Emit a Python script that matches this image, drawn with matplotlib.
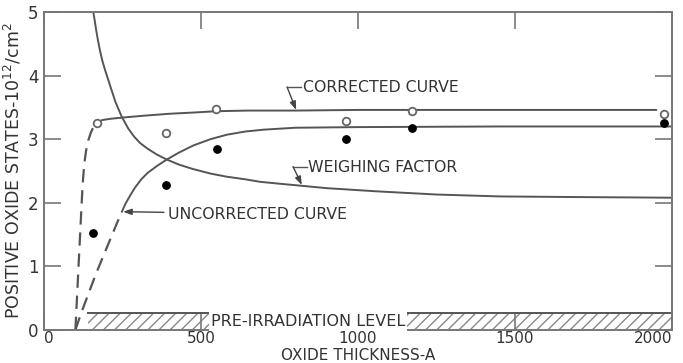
import numpy as np
from matplotlib import pyplot as plt
from matplotlib.patches import Rectangle

# -------------- data (x in Angstrom, y in 1e12/cm2)
open_x = [169, 390, 547, 962, 1171, 1973]
open_y = [3.26, 3.09, 3.47, 3.29, 3.45, 3.39]

fill_x = [157, 388, 550, 962, 1173, 1973]
fill_y = [1.52, 2.28, 2.84, 3.00, 3.18, 3.25]

corr_dash_x = [100, 106, 112, 118, 123, 128, 134, 141, 149, 158, 169]
corr_dash_y = [0.0, 0.60, 1.20, 1.80, 2.28, 2.60, 2.82, 2.98, 3.10, 3.20, 3.26]

corr_x = [169, 185, 210, 250, 320, 400, 480, 550, 650, 800, 1000, 1200, 1500, 1950]
corr_y = [3.26, 3.30, 3.32, 3.34, 3.37, 3.40, 3.42, 3.44, 3.45, 3.45, 3.46, 3.46, 3.46, 3.46]

uncorr_dash_x = [100, 118, 134, 150, 166, 182, 197, 213, 229, 248]
uncorr_dash_y = [0.0, 0.26, 0.47, 0.68, 0.89, 1.08, 1.26, 1.45, 1.64, 1.86]

uncorr_x = [248, 260, 275, 290, 310, 330, 360, 391, 430, 475, 530, 582, 640, 700, 800, 1000, 1452, 2000]
uncorr_y = [1.86, 1.99, 2.12, 2.24, 2.37, 2.47, 2.58, 2.68, 2.79, 2.90, 3.00, 3.07, 3.12, 3.15, 3.18, 3.19, 3.20, 3.20]

weigh_x = [157, 162, 166, 172, 178, 186, 195, 210, 228, 247, 268, 287, 306, 330, 359, 391, 430,
           475, 530, 582, 640, 688, 750, 815, 900, 1060, 1250, 1452, 1700, 2000]
weigh_y = [5.0, 4.85, 4.72, 4.55, 4.40, 4.23, 4.08, 3.85, 3.58, 3.36, 3.17, 3.04, 2.94, 2.85, 2.76,
           2.68, 2.60, 2.53, 2.46, 2.41, 2.37, 2.33, 2.30, 2.27, 2.23, 2.18, 2.13, 2.10, 2.09, 2.08]

pre_level = 0.27
pre_start = 140

xticks = [0, 500, 1000, 1500, 2000]
xtick_ha = ['left', 'center', 'center', 'center', 'right']
yticks = [0, 1, 2, 3, 4, 5]

ink = '#555555'
txt = '#333333'

plt.rcParams['font.family'] = ['DejaVu Sans']

fig, ax = plt.subplots(figsize=(6.83, 3.63), dpi=100, facecolor='white')
fig.subplots_adjust(left=0.0644, right=0.984, bottom=0.0909, top=0.967)

# -------------- curves
line_kw = dict(color=ink, solid_joinstyle='round', solid_capstyle='round')
ax.plot(corr_dash_x, corr_dash_y, lw=1.6, dashes=(6, 3.5), **line_kw)
ax.plot(corr_x, corr_y, lw=1.4, **line_kw)
ax.plot(uncorr_dash_x, uncorr_dash_y, lw=1.6, dashes=(6, 3.5), **line_kw)
ax.plot(uncorr_x, uncorr_y, lw=1.4, **line_kw)
ax.plot(weigh_x, weigh_y, lw=1.4, **line_kw)

# -------------- points
ax.scatter(open_x, open_y, s=30, facecolors='white', edgecolors='#666666', linewidths=1.3, zorder=5)
ax.scatter(fill_x, fill_y, s=28, color='black', zorder=5)

# -------------- pre-irradiation band
ax.add_patch(Rectangle((pre_start, 0), 2000 - pre_start, pre_level, facecolor='none',
                       edgecolor='#888888', hatch='///', lw=0))
ax.plot([pre_start, 2000], [pre_level, pre_level], color=ink, lw=1.4)
ax.text(840, 0.13, 'PRE-IRRADIATION LEVEL', ha='center', va='center', fontsize=11.5, color=txt,
        bbox=dict(facecolor='white', edgecolor='none', pad=1.5))

# -------------- labels with leaders
arrow = dict(arrowstyle='-|>,head_length=0.5,head_width=0.18', color='#444444', lw=1.0,
             shrinkA=0, shrinkB=0)
ax.text(825, 3.82, 'CORRECTED CURVE', ha='left', va='center', fontsize=11.3, color=txt)
ax.plot([774, 818], [3.82, 3.82], color=ink, lw=1.0)
ax.annotate('', xy=(803, 3.46), xytext=(774, 3.82), arrowprops=arrow)

ax.text(841, 2.55, 'WEIGHING FACTOR', ha='left', va='center', fontsize=11.3, color=txt)
ax.plot([793, 836], [2.57, 2.57], color=ink, lw=1.0)
ax.annotate('', xy=(821, 2.28), xytext=(793, 2.57), arrowprops=arrow)

ax.text(395, 1.81, 'UNCORRECTED CURVE', ha='left', va='center', fontsize=11.3, color=txt)
ax.annotate('', xy=(252, 1.86), xytext=(382, 1.85), arrowprops=arrow)

# -------------- axes
ax.set_xlim(0, 2000)
ax.set_ylim(0, 5)
ax.set_xticks(xticks)
ax.set_yticks(yticks)
ax.set_xticklabels([])
ax.set_yticklabels([str(v) for v in yticks], fontsize=12, color=txt)
ax.tick_params(direction='in', length=12, width=1.2, color='#777777', top=True, right=True)
ax.tick_params(axis='y', pad=4)
for s in ax.spines.values():
    s.set_color('#777777')
    s.set_linewidth(1.4)

# x tick labels drawn by hand so the end ones can sit inside the frame
for v, ha in zip(xticks, xtick_ha):
    ax.text(v, -0.004, str(v), transform=ax.get_xaxis_transform(), ha=ha, va='top',
            fontsize=11, color=txt)

ax.set_xlabel('OXIDE THICKNESS-A', fontsize=11, color=txt)
ax.xaxis.set_label_coords(0.5, -0.058)
ax.set_ylabel('POSITIVE OXIDE STATES-10$^{12}$/cm$^2$', fontsize=12.5, color=txt, labelpad=3)

plt.savefig('out.png', dpi=100, facecolor='white')
